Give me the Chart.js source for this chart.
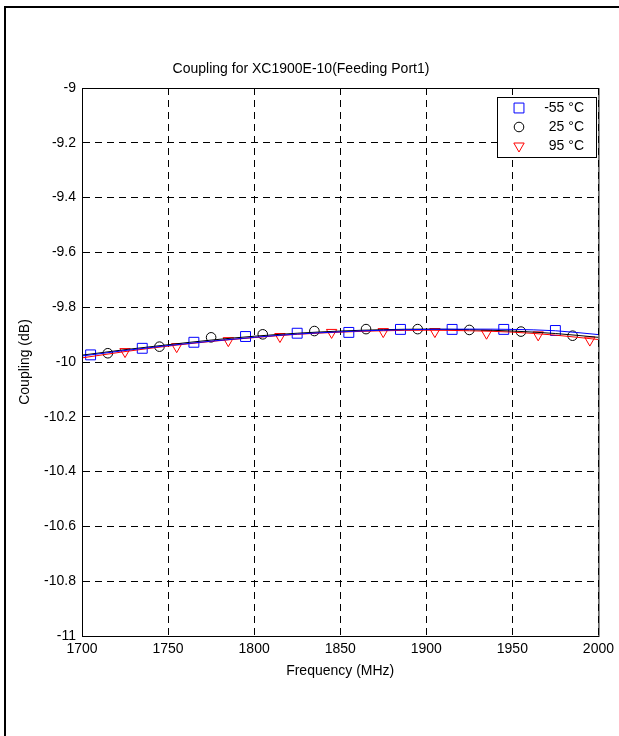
<!DOCTYPE html>
<html>
<head>
<meta charset="utf-8">
<script src="https://cdn.jsdelivr.net/npm/chart.js@4/dist/chart.umd.min.js"></script>
<style>
  html, body { margin: 0; padding: 0; background: #fff; }
  #wrap { width: 619px; height: 736px; position: relative; }
</style>
</head>
<body>
<div id="wrap"><canvas id="couplingChart"></canvas></div>
<script>
// fitted curves (MHz, dB)
const curveFreq = [1700, 1725, 1750, 1775, 1800, 1825, 1850, 1875, 1900, 1925, 1950, 1975, 2000];
const curveM55 = [-9.978, -9.958, -9.940, -9.924, -9.910, -9.898, -9.890, -9.884, -9.881, -9.880, -9.881, -9.886, -9.900];
const curve25 = [-9.975, -9.955, -9.937, -9.920, -9.906, -9.895, -9.887, -9.882, -9.880, -9.882, -9.887, -9.896, -9.910];
const curve95 = [-9.985, -9.962, -9.942, -9.925, -9.911, -9.899, -9.891, -9.886, -9.884, -9.886, -9.891, -9.902, -9.918];

// measured markers
const freqM55 = [1705, 1735, 1765, 1795, 1825, 1855, 1885, 1915, 1945, 1975];
const markM55 = [-9.974, -9.950, -9.928, -9.907, -9.895, -9.892, -9.881, -9.881, -9.881, -9.885];
const freq25 = [1715, 1745, 1775, 1805, 1835, 1865, 1895, 1925, 1955, 1985];
const mark25 = [-9.968, -9.944, -9.910, -9.899, -9.887, -9.880, -9.880, -9.883, -9.889, -9.904];
const freq95 = [1725, 1755, 1785, 1815, 1845, 1875, 1905, 1935, 1965, 1995];
const mark95 = [-9.962, -9.944, -9.922, -9.907, -9.892, -9.889, -9.889, -9.895, -9.901, -9.920];

const legendLabels = ['-55 °C', '25 °C', '95 °C'];
const xTicks = [1700, 1750, 1800, 1850, 1900, 1950, 2000];

const FONT = 'Arial, "Liberation Sans", sans-serif';
const FS = 14;

const toPts = (xs, ys) => xs.map((x, i) => ({ x: x, y: ys[i] }));

// box around the plot, outer figure edge, legend
const framePlugin = {
  id: 'framePlugin',
  afterDraw(chart) {
    const ctx = chart.ctx;
    const a = chart.chartArea;
    ctx.save();
    // figure edge
    ctx.strokeStyle = '#000';
    ctx.lineWidth = 2;
    ctx.beginPath();
    ctx.moveTo(5, 736);
    ctx.lineTo(5, 7);
    ctx.lineTo(619, 7);
    ctx.stroke();
    // axes box
    ctx.lineWidth = 1;
    ctx.strokeRect(a.left + 0.5, a.top + 0.5, a.right - a.left, a.bottom - a.top);

    // legend
    const bx = 497, by = 97, bw = 99, bh = 60;
    ctx.fillStyle = '#fff';
    ctx.fillRect(bx, by, bw, bh);
    ctx.strokeRect(bx + 0.5, by + 0.5, bw, bh);
    ctx.font = FS + 'px ' + FONT;
    ctx.textAlign = 'right';
    ctx.textBaseline = 'middle';
    const markerSets = chart.data.datasets.filter(d => d.isMarker);
    markerSets.forEach((ds, i) => {
      const y = by + 11 + i * 19;
      ctx.strokeStyle = ds.borderColor;
      ctx.fillStyle = 'rgba(0,0,0,0)';
      ctx.lineWidth = 1;
      Chart.helpers.drawPoint(ctx, {
        pointStyle: ds.pointStyle,
        radius: ds.pointRadius,
        rotation: ds.rotation || 0,
        borderWidth: 1
      }, 519, y);
      ctx.fillStyle = '#000';
      ctx.fillText(legendLabels[i], 584, y);
    });
    ctx.restore();
  }
};

new Chart(document.getElementById('couplingChart').getContext('2d'), {
  type: 'scatter',
  data: {
    datasets: [
      { data: toPts(curveFreq, curveM55), showLine: true, borderColor: '#0000ff', borderWidth: 1, pointRadius: 0, cubicInterpolationMode: 'monotone' },
      { data: toPts(curveFreq, curve25), showLine: true, borderColor: '#000000', borderWidth: 1, pointRadius: 0, cubicInterpolationMode: 'monotone' },
      { data: toPts(curveFreq, curve95), showLine: true, borderColor: '#ff0000', borderWidth: 1, pointRadius: 0, cubicInterpolationMode: 'monotone' },
      { isMarker: true, data: toPts(freqM55, markM55), showLine: false, borderColor: '#0000ff', backgroundColor: 'rgba(0,0,0,0)', pointStyle: 'rect', pointRadius: 7, borderWidth: 1 },
      { isMarker: true, data: toPts(freq25, mark25), showLine: false, borderColor: '#000000', backgroundColor: 'rgba(0,0,0,0)', pointStyle: 'circle', pointRadius: 4.8, borderWidth: 1 },
      { isMarker: true, data: toPts(freq95, mark95), showLine: false, borderColor: '#ff0000', backgroundColor: 'rgba(0,0,0,0)', pointStyle: 'triangle', rotation: 180, pointRadius: 6, borderWidth: 1 }
    ]
  },
  options: {
    responsive: true,
    maintainAspectRatio: false,
    animation: false,
    events: [],
    layout: { padding: { left: 0, right: 17, top: 0, bottom: 50 } },
    plugins: {
      legend: { display: false },
      tooltip: { enabled: false },
      title: {
        display: true,
        text: 'Coupling for XC1900E-10(Feeding Port1)',
        color: '#000',
        font: { family: FONT, size: FS, weight: 'normal' },
        padding: { top: 60.6, bottom: 10.6 }
      }
    },
    scales: {
      x: {
        type: 'linear',
        min: 1700,
        max: 2000,
        afterBuildTicks: scale => { scale.ticks = xTicks.map(v => ({ value: v })); },
        afterFit: scale => { scale.height = 50; },
        ticks: {
          color: '#000',
          font: { family: FONT, size: FS },
          padding: 5,
          maxRotation: 0,
          callback: v => String(v)
        },
        grid: { color: '#000', lineWidth: 1, drawTicks: false },
        border: { color: '#000', width: 1, dash: [7, 5] },
        title: {
          display: true,
          text: 'Frequency (MHz)',
          color: '#000',
          font: { family: FONT, size: FS },
          padding: { top: 0, bottom: 6 }
        }
      },
      y: {
        min: -11,
        max: -9,
        afterFit: scale => { scale.width = 82; },
        ticks: {
          stepSize: 0.2,
          color: '#000',
          font: { family: FONT, size: FS },
          padding: 6,
          callback: v => String(Math.round(v * 10) / 10)
        },
        grid: { color: '#000', lineWidth: 1, drawTicks: false },
        border: { color: '#000', width: 1, dash: [7, 5] },
        title: {
          display: true,
          text: 'Coupling (dB)',
          color: '#000',
          font: { family: FONT, size: FS },
          padding: { top: 16.6, bottom: 0 }
        }
      }
    }
  },
  plugins: [framePlugin]
});
</script>
</body>
</html>
